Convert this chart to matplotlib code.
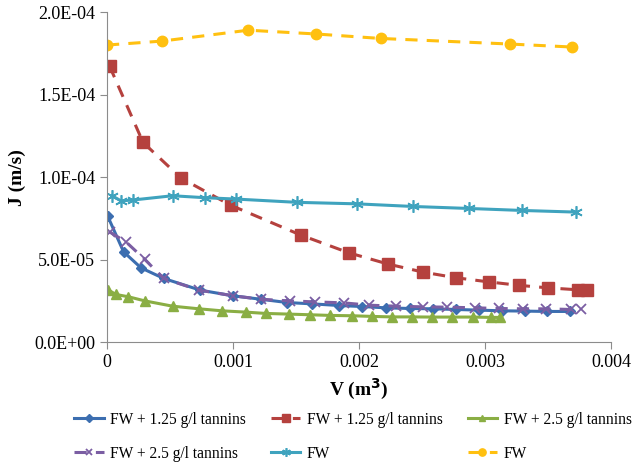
import matplotlib.pyplot as plt

plt.rcParams['font.family'] = ['Liberation Serif', 'DejaVu Serif']

# FW + 1.25 g/l tannins (solid, diamonds)
v_a = [0.000005, 0.000132, 0.00027, 0.00045, 0.00074, 0.000997, 0.00122, 0.00143, 0.00163,
       0.00184, 0.00202, 0.00221, 0.0024, 0.00259, 0.00277, 0.00295, 0.00313, 0.00332, 0.00349, 0.00367]
j_a = [7.64e-5, 5.47e-5, 4.50e-5, 3.86e-5, 3.15e-5, 2.81e-5, 2.60e-5, 2.40e-5, 2.32e-5,
       2.22e-5, 2.16e-5, 2.08e-5, 2.04e-5, 2.02e-5, 1.98e-5, 1.94e-5, 1.90e-5, 1.88e-5, 1.86e-5, 1.86e-5]

# FW + 1.25 g/l tannins (dashed, squares)
v_b = [0.00002, 0.000286, 0.000587, 0.00098, 0.00154, 0.00192, 0.00223, 0.00251, 0.00277,
       0.00303, 0.00327, 0.0035, 0.00374, 0.00381]
j_b = [1.673e-4, 1.21e-4, 0.994e-4, 0.83e-4, 0.648e-4, 0.541e-4, 0.473e-4, 0.424e-4, 0.39e-4,
       0.365e-4, 0.344e-4, 0.329e-4, 0.317e-4, 0.313e-4]

# FW + 2.5 g/l tannins (solid, triangles)
v_c = [0.000005, 0.00007, 0.00017, 0.0003, 0.00052, 0.00073, 0.00091, 0.0011, 0.00126, 0.00144,
       0.00161, 0.00177, 0.00194, 0.0021, 0.00226, 0.00242, 0.00258, 0.00274, 0.0029, 0.00305, 0.00312]
j_c = [3.19e-5, 2.89e-5, 2.75e-5, 2.50e-5, 2.18e-5, 2.02e-5, 1.90e-5, 1.82e-5, 1.74e-5, 1.70e-5,
       1.66e-5, 1.62e-5, 1.60e-5, 1.56e-5, 1.53e-5, 1.53e-5, 1.52e-5, 1.52e-5, 1.52e-5, 1.50e-5, 1.50e-5]

# FW + 2.5 g/l tannins (dashed, crosses)
v_d = [0.00002, 0.00015, 0.0003, 0.00045, 0.00073, 0.001, 0.00122, 0.00145, 0.00165, 0.00188,
       0.00208, 0.00229, 0.00251, 0.0027, 0.00292, 0.00311, 0.0033, 0.00348, 0.00368, 0.00376]
j_d = [6.68e-5, 6.08e-5, 5.01e-5, 3.86e-5, 3.15e-5, 2.81e-5, 2.60e-5, 2.50e-5, 2.44e-5, 2.38e-5,
       2.24e-5, 2.18e-5, 2.14e-5, 2.12e-5, 2.08e-5, 2.04e-5, 2.02e-5, 2.02e-5, 1.98e-5, 1.98e-5]

# FW (solid, asterisks)
v_e = [0.00004, 0.000111, 0.000203, 0.00052, 0.00078, 0.00102, 0.00151, 0.00198, 0.00243,
       0.00287, 0.00329, 0.00372]
j_e = [0.887e-4, 0.856e-4, 0.861e-4, 0.887e-4, 0.875e-4, 0.867e-4, 0.847e-4, 0.838e-4, 0.822e-4,
       0.81e-4, 0.798e-4, 0.788e-4]

# FW (dashed, circles)
v_f = [0.0, 0.000437, 0.00112, 0.00166, 0.00217, 0.0032, 0.00369]
j_f = [1.80e-4, 1.824e-4, 1.89e-4, 1.867e-4, 1.84e-4, 1.806e-4, 1.788e-4]

fig = plt.figure(figsize=(6.35, 4.63), dpi=100)
ax = fig.add_axes([0.1685, 0.261, 0.794, 0.713])

la, = ax.plot(v_a, j_a, '-', color='#3C6EB0', lw=2.2, marker='D', ms=5.5, label='FW + 1.25 g/l tannins')
lb, = ax.plot(v_b, j_b, '--', color='#B5413E', lw=2.2, marker='s', ms=8, dashes=(4, 3), label='FW + 1.25 g/l tannins')
lc, = ax.plot(v_c, j_c, '-', color='#8AAE44', lw=2.2, marker='^', ms=7, label='FW + 2.5 g/l tannins')
ld, = ax.plot(v_d, j_d, '--', color='#7B5EA3', lw=2.2, marker='x', ms=7, mew=1.3, dashes=(4, 3), label='FW + 2.5 g/l tannins')
le, = ax.plot(v_e, j_e, '-', color='#3FA3BE', lw=2.2, marker=(6, 2, 0), ms=9, mew=1.2, label='FW')
lf, = ax.plot(v_f, j_f, '--', color='#FFC010', lw=2.2, marker='o', ms=7.5, dashes=(4, 3), label='FW')

ax.set_xlim(0, 0.004)
ax.set_ylim(0, 2.0e-4)
ax.set_xticks([0, 0.001, 0.002, 0.003, 0.004])
ax.set_xticklabels(['0', '0.001', '0.002', '0.003', '0.004'])
ax.set_yticks([0, 5e-5, 1e-4, 1.5e-4, 2e-4])
ax.set_yticklabels(['0.0E+00', '5.0E-05', '1.0E-04', '1.5E-04', '2.0E-04'])

for s in ['top', 'right']:
    ax.spines[s].set_visible(False)
for s in ['left', 'bottom']:
    ax.spines[s].set_color('#8c8c8c')
ax.tick_params(colors='#8c8c8c', labelcolor='black', labelsize=13, length=5)

ax.set_xlabel('V (m$^\\mathbf{3}$)', fontsize=14, fontweight='bold', labelpad=4)
ax.set_ylabel('J (m/s)', fontsize=14, fontweight='bold', labelpad=6)

fig.legend(handles=[la, ld, lb, le, lc, lf], loc='upper left', bbox_to_anchor=(0.107, 0.124),
           ncol=3, frameon=False, fontsize=11.2, handlelength=1.9, handletextpad=0.42,
           columnspacing=1.6, labelspacing=1.15, borderaxespad=0, markerscale=0.7)

fig.savefig('out.png', dpi=100)
